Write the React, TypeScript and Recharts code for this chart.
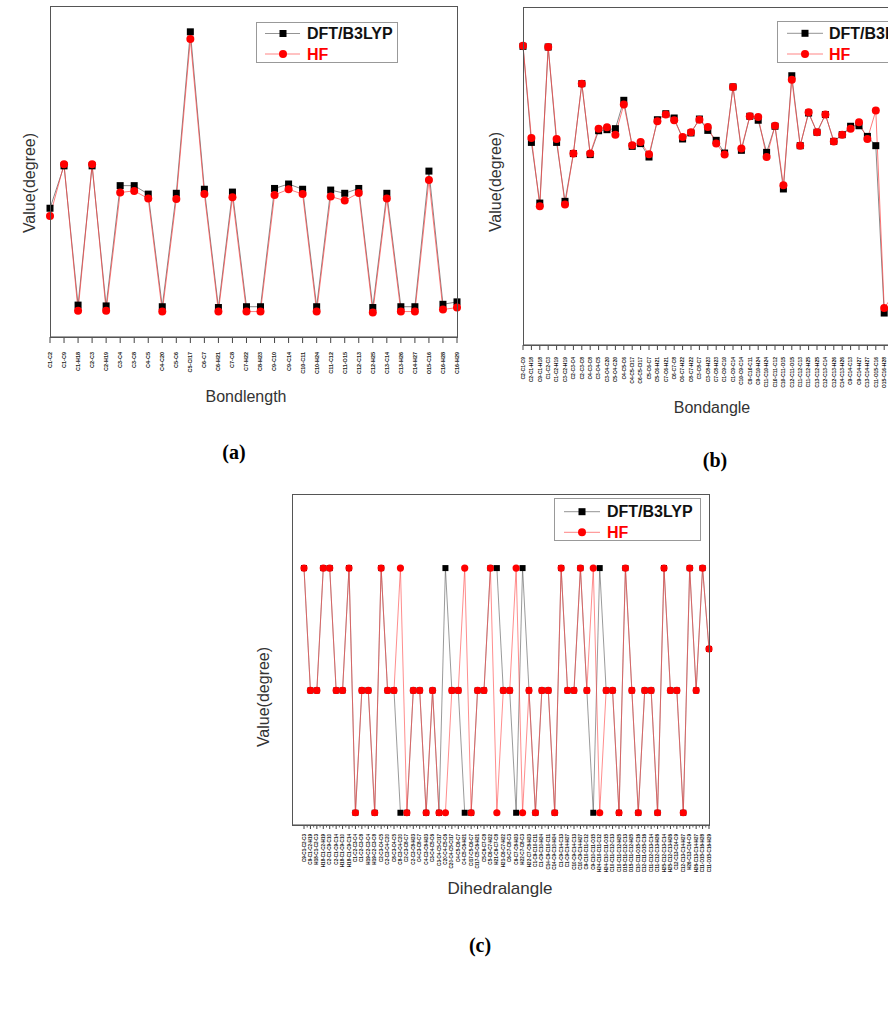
import React from "react";
import { LineChart, Line, XAxis, YAxis } from "recharts";

const FONT = '"Liberation Sans", Arial, sans-serif';
const AXIS = "#444";
const RED = "#ff0000";

// (a) bond lengths
const bondLabels = [
  "C1-C2", "C1-C9", "C1-H18", "C2-C3", "C2-H19", "C3-C4", "C3-C8", "C4-C5", "C4-C20", "C5-C6",
  "C5-Cl17", "C6-C7", "C6-H21", "C7-C8", "C7-H22", "C8-H23", "C9-C10", "C9-C14", "C10-C11", "C10-H24",
  "C11-C12", "C11-O15", "C12-C13", "C12-H25", "C13-C14", "C13-H26", "C14-H27", "O15-C16", "C16-H28", "C16-H29",
];
const bondDft = [
  1.319, 1.424, 1.079, 1.424, 1.077, 1.375, 1.375, 1.354, 1.075, 1.356,
  1.756, 1.366, 1.073, 1.359, 1.075, 1.075, 1.368, 1.379, 1.366, 1.075,
  1.364, 1.356, 1.368, 1.073, 1.356, 1.075, 1.075, 1.411, 1.081, 1.087,
];
const bondHf = [
  1.300, 1.428, 1.065, 1.428, 1.065, 1.358, 1.362, 1.343, 1.063, 1.342,
  1.738, 1.354, 1.063, 1.346, 1.063, 1.063, 1.352, 1.366, 1.354, 1.063,
  1.348, 1.338, 1.357, 1.061, 1.343, 1.063, 1.063, 1.389, 1.068, 1.073,
];

// (b) bond angles
const angleLabels = [
  "C2-C1-C9", "C2-C1-H18", "C9-C1-H18", "C1-C2-C3", "C1-C2-H19", "C3-C2-H19", "C2-C3-C4", "C2-C3-C8",
  "C4-C3-C8", "C3-C4-C5", "C3-C4-C20", "C5-C4-C20", "C4-C5-C6", "C4-C5-Cl17", "C6-C5-Cl17", "C5-C6-C7",
  "C5-C6-H21", "C7-C6-H21", "C6-C7-C8", "C6-C7-H22", "C8-C7-H22", "C3-C8-C7", "C3-C8-H23", "C7-C8-H23",
  "C1-C9-C10", "C1-C9-C14", "C10-C9-C14", "C9-C10-C11", "C9-C10-H24", "C11-C10-H24", "C10-C11-C12",
  "C10-C11-O15", "C12-C11-O15", "C11-C12-C13", "C11-C12-H25", "C13-C12-H25", "C12-C13-C14", "C12-C13-H26",
  "C14-C13-H26", "C9-C14-C13", "C9-C14-H27", "C13-C14-H27", "C11-O15-C16", "O15-C16-H28", "O15-C16-H29",
  "H28-C16-H29",
];
const angleDft = [
  125.43, 119.84, 116.31, 125.39, 119.84, 116.41, 119.19, 123.26, 119.13, 120.52,
  120.58, 120.64, 122.29, 119.61, 119.77, 118.99, 121.16, 121.51, 121.26, 120.04,
  120.39, 121.2, 120.54, 119.96, 119.22, 123.07, 119.38, 121.36, 121.13, 119.26,
  120.78, 117.13, 123.72, 119.65, 121.55, 120.43, 121.46, 119.9, 120.29, 120.78,
  120.81, 120.19, 119.65, 109.91, 110.6, 109.5,
];
const angleHf = [
  125.47, 120.1, 116.12, 125.39, 120.04, 116.22, 119.19, 123.26, 119.19, 120.64,
  120.72, 120.29, 122.04, 119.67, 119.86, 119.15, 121.07, 121.46, 121.13, 120.16,
  120.43, 121.16, 120.74, 119.77, 119.13, 123.07, 119.48, 121.36, 121.32, 118.99,
  120.81, 117.34, 123.49, 119.65, 121.59, 120.43, 121.46, 119.9, 120.29, 120.64,
  121.01, 120.04, 121.69, 110.2, 110.9, 109.2,
];

// (c) dihedral angles
const dihedralLabels = [
  "C9-C1-C2-C3", "C9-C1-C2-H19", "H18-C1-C2-C3", "H18-C1-C2-H19", "C2-C1-C9-C10", "C2-C1-C9-C14",
  "H18-C1-C9-C10", "H18-C1-C9-C14", "C1-C2-C3-C4", "C1-C2-C3-C8", "H19-C2-C3-C4", "H19-C2-C3-C8",
  "C2-C3-C4-C5", "C2-C3-C4-C20", "C8-C3-C4-C5", "C8-C3-C4-C20", "C2-C3-C8-C7", "C2-C3-C8-H23",
  "C4-C3-C8-C7", "C4-C3-C8-H23", "C3-C4-C5-C6", "C3-C4-C5-Cl17", "C20-C4-C5-C6", "C20-C4-C5-Cl17",
  "C4-C5-C6-C7", "C4-C5-C6-H21", "Cl17-C5-C6-C7", "Cl17-C5-C6-H21", "C5-C6-C7-C8", "C5-C6-C7-H22",
  "H21-C6-C7-C8", "H21-C6-C7-H22", "C6-C7-C8-C3", "C6-C7-C8-H23", "H22-C7-C8-C3", "H22-C7-C8-H23",
  "C1-C9-C10-C11", "C1-C9-C10-H24", "C14-C9-C10-C11", "C14-C9-C10-H24", "C1-C9-C14-C13", "C1-C9-C14-H27",
  "C10-C9-C14-C13", "C10-C9-C14-H27", "C9-C10-C11-C12", "C9-C10-C11-O15", "H24-C10-C11-C12",
  "H24-C10-C11-O15", "C10-C11-C12-C13", "C10-C11-C12-H25", "O15-C11-C12-C13", "O15-C11-C12-H25",
  "C10-C11-O15-C16", "C12-C11-O15-C16", "C11-C12-C13-C14", "C11-C12-C13-H26", "H25-C12-C13-C14",
  "H25-C12-C13-H26", "C12-C13-C14-C9", "C12-C13-C14-H27", "H26-C13-C14-C9", "H26-C13-C14-H27",
  "C11-O15-C16-H28", "C11-O15-C16-H29",
];
const dihedralDft = [
  180, 0, 0, 180, 180, 0, 0, 180, -180, 0, 0, -180, 180, 0, 0, -180,
  -180, 0, 0, -180, 0, -180, 180, 0, 0, -180, -180, 0, 0, 180, 180, 0,
  0, -180, 180, 0, -180, 0, 0, -180, 180, 0, 0, 180, 0, -180, 180, 0,
  0, -180, 180, 0, -180, 0, 0, -180, 180, 0, 0, -180, 180, 0, 180, 61,
];
const dihedralHf = [
  180, 0, 0, 180, 180, 0, 0, 180, -180, 0, 0, -180, 180, 0, 0, 180,
  -180, 0, 0, -180, 0, -180, -180, 0, 0, 180, -180, 0, 0, 180, -180, 0,
  0, 180, -180, 0, -180, 0, 0, -180, 180, 0, 0, 180, 0, 180, -180, 0,
  0, -180, 180, 0, -180, 0, 0, -180, 180, 0, 0, -180, 180, 0, 180, 61,
];

const toRows = (labels: string[], dft: number[], hf: number[]) =>
  labels.map((name, i) => ({ name, dft: dft[i], hf: hf[i] }));

const bondRows = toRows(bondLabels, bondDft, bondHf);
const angleRows = toRows(angleLabels, angleDft, angleHf);
const dihedralRows = toRows(dihedralLabels, dihedralDft, dihedralHf);

const squareDot = (size: number) => (props: any) => {
  const { cx, cy, index } = props;
  if (cx == null || cy == null) return <g key={`sq-${index}`} />;
  return <rect key={`sq-${index}`} x={cx - size / 2} y={cy - size / 2} width={size} height={size} fill="#000" />;
};

const RotTick = (props: any) => {
  const { x, y, payload, gap, fontSize, minor, tickSize, isLast } = props;
  return (
    <g transform={`translate(${x},${y})`}>
      {minor && !isLast ? (
        <line x1={minor / 2} x2={minor / 2} y1={-tickSize} y2={-tickSize + 2.5} stroke={AXIS} strokeWidth={0.8} />
      ) : null}
      <text
        transform="rotate(-90)"
        x={-gap}
        y={0}
        dy="0.35em"
        textAnchor="end"
        fontSize={fontSize}
        fontWeight="bold"
        fill="#222"
        fontFamily={FONT}
      >
        {payload.value}
      </text>
    </g>
  );
};

const Label = ({ x, y, size, rotate = 0, children, style }: any) => (
  <div
    style={{
      position: "absolute",
      left: x,
      top: y,
      transform: `translate(-50%, -50%) rotate(${rotate}deg)`,
      fontSize: size,
      lineHeight: 1,
      whiteSpace: "nowrap",
      fontFamily: FONT,
      color: "#333",
      ...style,
    }}
  >
    {children}
  </div>
);

// plot frame drawn over the chart's plot area
const Frame = ({ left, top, width, height }: any) => (
  <div
    style={{
      position: "absolute",
      left,
      top,
      width,
      height,
      border: "1px solid #555",
      boxSizing: "border-box",
      pointerEvents: "none",
    }}
  />
);

const LegendBox = ({ left, top, width, height, rows, lineX, markX, textX, size, bold }: any) => (
  <svg style={{ position: "absolute", left, top }} width={width} height={height}>
    <rect x={0.5} y={0.5} width={width - 1} height={height - 1} fill="#fff" stroke="#999" strokeWidth={1} />
    <line x1={lineX[0]} x2={lineX[1]} y1={rows[0]} y2={rows[0]} stroke="#666" strokeWidth={0.7} />
    <rect x={markX - 3.5} y={rows[0] - 3.5} width={7} height={7} fill="#000" />
    <text x={textX} y={rows[0]} dy="0.36em" fontSize={size} fontWeight={bold ? "bold" : "normal"} fill="#111" fontFamily={FONT}>
      DFT/B3LYP
    </text>
    <line x1={lineX[0]} x2={lineX[1]} y1={rows[1]} y2={rows[1]} stroke="#ff5050" strokeWidth={0.7} />
    <circle cx={markX} cy={rows[1]} r={4} fill={RED} />
    <text x={textX} y={rows[1]} dy="0.36em" fontSize={size} fontWeight={bold ? "bold" : "normal"} fill={RED} fontFamily={FONT}>
      HF
    </text>
  </svg>
);

const C_PLOT_W = 417;
const C_PAD = 12;
const cStep = (C_PLOT_W - C_PAD) / (dihedralRows.length - 1);

const LINE_BLACK = "#555";
const LINE_RED = "#ff4040";

export default function App() {
  return (
    <div
      style={{
        position: "absolute",
        left: 0,
        top: 0,
        width: 888,
        height: 1022,
        overflow: "hidden",
        background: "#fff",
        fontFamily: FONT,
      }}
    >
      {/* (a) Bondlength */}
      <div style={{ position: "absolute", left: 0, top: 0 }}>
        <LineChart width={470} height={420} data={bondRows} margin={{ top: 6, right: 13, left: 50, bottom: 0 }}>
          <XAxis
            dataKey="name"
            interval={0}
            height={83}
            tickSize={6}
            tickMargin={0}
            axisLine={{ stroke: AXIS }}
            tickLine={{ stroke: AXIS }}
            tick={<RotTick gap={9} fontSize={5.5} tickSize={6} />}
          />
          <YAxis domain={[1.0, 1.82]} width={0} tick={false} tickLine={false} axisLine={false} allowDataOverflow />
          <Line dataKey="dft" stroke={LINE_BLACK} strokeWidth={0.7} dot={squareDot(7)} isAnimationActive={false} />
          <Line dataKey="hf" stroke={LINE_RED} strokeWidth={0.7} dot={{ r: 4, fill: RED, stroke: "none" }} isAnimationActive={false} />
        </LineChart>
      </div>
      <Frame left={50} top={6} width={408} height={332} />
      <LegendBox left={256} top={22} width={142} height={41} rows={[11.5, 32]} lineX={[9, 44]} markX={27} textX={51} size={16} bold />
      <Label x={30} y={183} size={16} rotate={-90}>Value(degree)</Label>
      <Label x={246} y={397} size={16}>Bondlength</Label>
      <Label x={234} y={452} size={20} style={{ fontFamily: '"Liberation Serif", serif', fontWeight: "bold", color: "#000" }}>(a)</Label>

      {/* (b) Bondangle */}
      <div style={{ position: "absolute", left: 470, top: 0 }}>
        <LineChart width={441} height={420} data={angleRows} margin={{ top: 7, right: 10, left: 53, bottom: 0 }}>
          <XAxis
            dataKey="name"
            interval={0}
            height={75}
            tickSize={5}
            tickMargin={0}
            axisLine={{ stroke: AXIS }}
            tickLine={{ stroke: AXIS }}
            tick={<RotTick gap={7} fontSize={5} tickSize={5} />}
          />
          <YAxis domain={[108.05, 127.72]} width={0} tick={false} tickLine={false} axisLine={false} allowDataOverflow />
          <Line dataKey="dft" stroke={LINE_BLACK} strokeWidth={0.7} dot={squareDot(7)} isAnimationActive={false} />
          <Line dataKey="hf" stroke={LINE_RED} strokeWidth={0.7} dot={{ r: 4, fill: RED, stroke: "none" }} isAnimationActive={false} />
        </LineChart>
      </div>
      <Frame left={523} top={7} width={379} height={339} />
      <LegendBox left={777} top={21} width={142} height={42} rows={[12.3, 33]} lineX={[10, 46]} markX={28} textX={52} size={16} bold />
      <Label x={496} y={182} size={16} rotate={-90}>Value(degree)</Label>
      <Label x={712} y={408} size={16}>Bondangle</Label>
      <Label x={715} y={460} size={20} style={{ fontFamily: '"Liberation Serif", serif', fontWeight: "bold", color: "#000" }}>(b)</Label>

      {/* (c) Dihedralangle */}
      <div style={{ position: "absolute", left: 240, top: 480 }}>
        <LineChart width={489} height={405} data={dihedralRows} margin={{ top: 14, right: 20, left: 52, bottom: 0 }}>
          <XAxis
            dataKey="name"
            interval={0}
            height={60}
            tickSize={4}
            tickMargin={0}
            padding={{ left: C_PAD, right: 0 }}
            axisLine={{ stroke: AXIS }}
            tickLine={{ stroke: AXIS }}
            tick={(p: any) => (
              <RotTick {...p} gap={5} fontSize={4.6} tickSize={4} minor={cStep} isLast={p.index === dihedralRows.length - 1} />
            )}
          />
          <YAxis domain={[-198, 289]} width={0} tick={false} tickLine={false} axisLine={false} allowDataOverflow />
          <Line dataKey="dft" stroke={LINE_BLACK} strokeWidth={0.6} dot={squareDot(6)} isAnimationActive={false} />
          <Line dataKey="hf" stroke={LINE_RED} strokeWidth={0.6} dot={{ r: 3.6, fill: RED, stroke: "none" }} isAnimationActive={false} />
        </LineChart>
      </div>
      <Frame left={292} top={494} width={418} height={332} />
      <LegendBox left={554} top={498} width={147} height={43} rows={[13.7, 34.3]} lineX={[10, 46]} markX={28} textX={53} size={16} bold />
      <Label x={264} y={697} size={16} rotate={-90}>Value(degree)</Label>
      <Label x={500} y={888} size={17}>Dihedralangle</Label>
      <Label x={480} y={945} size={20} style={{ fontFamily: '"Liberation Serif", serif', fontWeight: "bold", color: "#000" }}>(c)</Label>
    </div>
  );
}
